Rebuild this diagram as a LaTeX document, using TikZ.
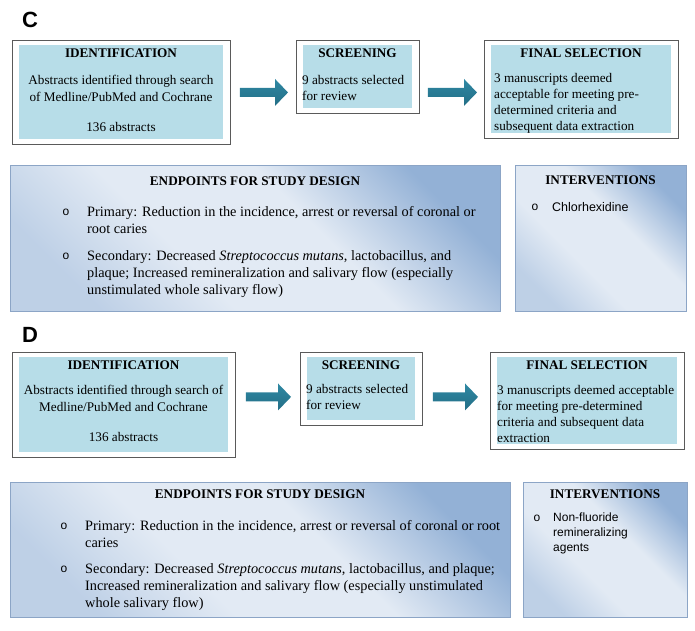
\documentclass[tikz,border=0pt]{standalone}
\usepackage{fontspec}
\setmainfont{Liberation Serif}
\setsansfont{Liberation Sans}
\usetikzlibrary{calc}
\definecolor{boxblue}{HTML}{B7DDE8}
\definecolor{framegray}{HTML}{5A5A5A}
\definecolor{arrowdark}{HTML}{236E86}
\definecolor{arrowtop}{HTML}{2F88A3}
\definecolor{arrowmid}{HTML}{4DB2CE}
\definecolor{eplight}{HTML}{E2EAF4}
\definecolor{epdark}{HTML}{93B1D6}
\definecolor{epedge}{HTML}{8CA5C6}
\pgfdeclarehorizontalshading{epband}{100bp}{color(0bp)=(epdark!45!eplight); color(25bp)=(epdark!45!eplight); color(40bp)=(eplight); color(58bp)=(eplight); color(75bp)=(epdark); color(100bp)=(epdark)}
\newcommand{\blockarrow}[2]{%
  \path[arrowfill] let \p1=#1, \p2=#2 in
    (\x1,\y1+4.5pt) -- (\x2-13pt,\y1+4.5pt) -- (\x2-13pt,\y1+13.5pt) -- (\x2,\y1)
    -- (\x2-13pt,\y1-13.5pt) -- (\x2-13pt,\y1-4.5pt) -- (\x1,\y1-4.5pt) -- cycle;}

\begin{document}
\begin{tikzpicture}[x=1pt, y=-1pt,
  frame/.style={draw=framegray, line width=0.9pt, fill=white, anchor=north west, inner sep=0pt,
    path picture={\fill[boxblue] ([shift={(7pt,-5pt)}]path picture bounding box.north west)
      rectangle ([shift={(-7pt,5pt)}]path picture bounding box.south east);}},
  epbox/.style={draw=epedge, line width=0.8pt, shade, shading=epband, shading angle=45, anchor=north west, inner sep=0pt},
  arrowfill/.style={top color=arrowtop, middle color=arrowmid, bottom color=arrowdark},
  head/.style={font=\bfseries\fontsize{13.2}{15}\selectfont, inner sep=0pt},
  body/.style={font=\fontsize{13.2}{16.5}\selectfont, inner sep=0pt},
  eptext/.style={font=\fontsize{14.3}{17}\selectfont, align=left, anchor=north west, inner sep=0pt},
  bulletmark/.style={font=\sffamily\fontsize{12}{14}\selectfont, inner sep=0pt},
  intext/.style={font=\sffamily\fontsize{12.5}{15}\selectfont, align=left, anchor=north west, inner sep=0pt},
  letter/.style={font=\sffamily\bfseries\fontsize{22}{24}\selectfont, inner sep=0pt}]
\useasboundingbox (0,0) rectangle (695,630);

% panel C
\node[letter] (letC) at (30,20) {C};
\node[frame, minimum width=218pt, minimum height=104pt] (idC) at (12,40) {};
\node[head] (idChead) at (121,53) {IDENTIFICATION};
\node[body, align=center] (idCbody) at (121,88.5) {Abstracts identified through search\\of Medline/PubMed and Cochrane};
\node[body] (idCcount) at (121,127) {136 abstracts};
\node[frame, minimum width=123pt, minimum height=73pt] (scC) at (296,40) {};
\node[head] (scChead) at (357.5,53) {SCREENING};
\node[body, align=left, anchor=north west] (scCbody) at (302,75) {9 abstracts selected\\for review};
\node[frame, minimum width=194pt, minimum height=98pt] (fsC) at (484,40) {};
\node[head] (fsChead) at (581,53) {FINAL SELECTION};
\node[body, align=left, anchor=north west, font=\fontsize{13.2}{16}\selectfont] (fsCbody) at (494,73) {3 manuscripts deemed\\acceptable for meeting pre-\\determined criteria and\\subsequent data extraction};
\blockarrow{($(idC.east)+(9,0)$)}{($(scC.west |- idC.east)+(-8,0)$)}
\blockarrow{($(scC.east |- idC.east)+(8,0)$)}{($(fsC.west |- idC.east)+(-7,0)$)}

\node[epbox, minimum width=490pt, minimum height=146pt] (epC) at (10,165) {};
\node[head] (epChead) at (255,181) {ENDPOINTS FOR STUDY DESIGN};
\node[bulletmark] (epCb1) at (66,212) {o};
\node[eptext] (epCt1) at (87,206.7) {Primary: Reduction in the incidence, arrest or reversal of coronal or\\root caries};
\node[bulletmark] (epCb2) at (66,256) {o};
\node[eptext] (epCt2) at (87,250.7) {Secondary: Decreased \textit{Streptococcus mutans}, lactobacillus, and\\plaque; Increased remineralization and salivary flow (especially\\unstimulated whole salivary flow)};
\node[epbox, minimum width=171pt, minimum height=146pt] (inC) at (515,165) {};
\node[head] (inChead) at (600.5,180) {INTERVENTIONS};
\node[bulletmark] (inCb1) at (535,207) {o};
\node[intext] (inCt1) at (552,202) {Chlorhexidine};

% panel D
\node[letter] (letD) at (30,335) {D};
\node[frame, minimum width=223pt, minimum height=105pt] (idD) at (12,352) {};
\node[head] (idDhead) at (123.5,365) {IDENTIFICATION};
\node[body, align=center] (idDbody) at (123.5,398.5) {Abstracts identified through search of\\Medline/PubMed and Cochrane};
\node[body] (idDcount) at (123.5,437) {136 abstracts};
\node[frame, minimum width=122pt, minimum height=73pt] (scD) at (300,352) {};
\node[head] (scDhead) at (361,365) {SCREENING};
\node[body, align=left, anchor=north west] (scDbody) at (306,384) {9 abstracts selected\\for review};
\node[frame, minimum width=194pt, minimum height=97pt] (fsD) at (490,352) {};
\node[head] (fsDhead) at (587,365) {FINAL SELECTION};
\node[body, align=left, anchor=north west, font=\fontsize{13.2}{16}\selectfont] (fsDbody) at (497,385) {3 manuscripts deemed acceptable\\for meeting pre-determined\\criteria and subsequent data\\extraction};
\blockarrow{($(idD.east)+(10,-8)$)}{($(scD.west |- idD.east)+(-9,-8)$)}
\blockarrow{($(scD.east |- idD.east)+(10,-8)$)}{($(fsD.west |- idD.east)+(-12,-8)$)}

\node[epbox, minimum width=500pt, minimum height=135pt] (epD) at (10,482) {};
\node[head] (epDhead) at (260,494) {ENDPOINTS FOR STUDY DESIGN};
\node[bulletmark] (epDb1) at (64,526) {o};
\node[eptext] (epDt1) at (85,520.7) {Primary: Reduction in the incidence, arrest or reversal of coronal or root\\caries};
\node[bulletmark] (epDb2) at (64,569) {o};
\node[eptext] (epDt2) at (85,563.7) {Secondary: Decreased \textit{Streptococcus mutans}, lactobacillus, and plaque;\\Increased remineralization and salivary flow (especially unstimulated\\whole salivary flow)};
\node[epbox, minimum width=164pt, minimum height=135pt] (inD) at (523,482) {};
\node[head] (inDhead) at (605,494) {INTERVENTIONS};
\node[bulletmark] (inDb1) at (537,518) {o};
\node[intext, font=\sffamily\fontsize{12}{15}\selectfont] (inDt1) at (553,513) {Non-fluoride\\remineralizing\\agents};
\end{tikzpicture}
\end{document}
